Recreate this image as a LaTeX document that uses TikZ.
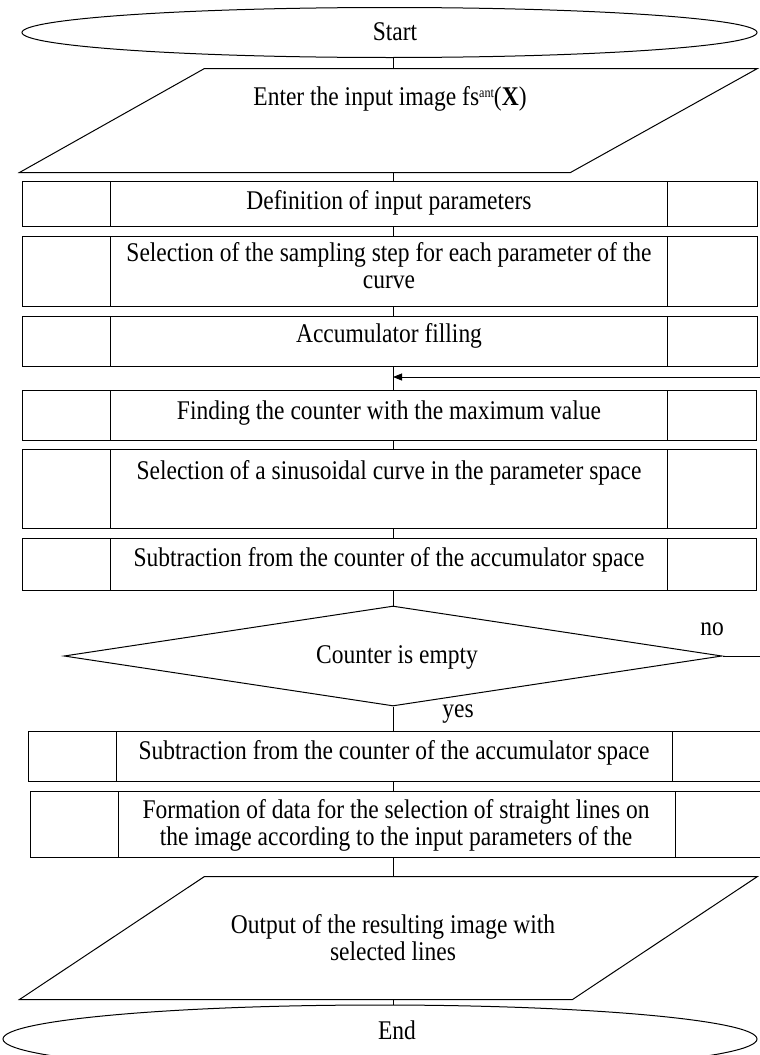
\documentclass[tikz,border=0pt]{standalone}
\usepackage{fontspec}
\setmainfont{Liberation Serif}[FakeStretch=0.87]
\usetikzlibrary{shapes.geometric,arrows.meta}
\begin{document}
\begin{tikzpicture}[x=1pt,y=-1pt,
  line width=1pt,
  lbl/.style={font=\fontsize{27}{27}\selectfont, inner sep=0pt, align=center},
  frame/.style={draw, inner sep=0pt, anchor=north west},
  term/.style={draw, ellipse, inner sep=0pt},
  conn/.style={draw, line width=0.8pt}]
\useasboundingbox (0,0) rectangle (760,1055);
\clip (0,0) rectangle (760,1055);
\coordinate (cl) at (393,0);
% Start
\node[term, minimum width=735pt, minimum height=50pt] (start) at (389.5,32.5) {};
\node[lbl] (starttxt) at (395,32) {Start};
% Input parallelogram
\node[inner sep=0pt, minimum width=737pt, minimum height=103pt] (inbox) at (388.5,120.5) {};
\draw ([xshift=185pt]inbox.north west) -- (inbox.north east) -- ([xshift=-187pt]inbox.south east) -- (inbox.south west) -- cycle;
\node[lbl] (intxt) at (390,99) {Enter the input image fs\raisebox{8pt}{\fontsize{14}{14}\selectfont ant}(\textbf{X})};
% process boxes
\newcommand{\pbox}[8]{% name, x1, x2, y1, y2, xi1, xi2, text
  \node[frame, minimum width=#3pt-#2pt, minimum height=#5pt-#4pt] (#1) at (#2,#4) {};
  \draw (#6,#4) -- (#6,#5);
  \draw (#7,#4) -- (#7,#5);
}
\pbox{b1}{22}{757}{181}{226}{110}{667}{}
\node[lbl] (t1) at (389,203) {Definition of input parameters};
\pbox{b2}{22}{757}{236}{306}{110}{667}{}
\node[lbl] (t2) at (389,266) {Selection of the sampling step for each parameter of the\\curve};
\pbox{b3}{22}{757}{316}{366}{110}{667}{}
\node[lbl] (t3) at (389,336) {Accumulator filling};
\pbox{b4}{22}{756}{390}{440}{110}{667}{}
\node[lbl] (t4) at (389,413) {Finding the counter with the maximum value};
\pbox{b5}{22}{756}{449}{528}{110}{667}{}
\node[lbl] (t5) at (389,473) {Selection of a sinusoidal curve in the parameter space};
\pbox{b6}{22}{756}{538}{590}{110}{667}{}
\node[lbl] (t6) at (389,560) {Subtraction from the counter of the accumulator space};
% diamond
\node[draw, diamond, inner sep=0pt, minimum width=658pt, minimum height=100pt, aspect=6.58] (dec) at (393,656) {};
\node[lbl] (dtxt) at (397,657) {Counter is empty};
\node[lbl] (no) at (712,629) {no};
\node[lbl] (yes) at (458,714) {yes};
\pbox{b7}{28}{770}{731}{781}{116}{672}{}
\node[lbl] (t7) at (394,753) {Subtraction from the counter of the accumulator space};
\pbox{b8}{30}{770}{791}{857}{118}{675}{}
\node[lbl] (t8) at (396,825) {Formation of data for the selection of straight lines on\\the image according to the input parameters of the};
% Output parallelogram
\node[inner sep=0pt, minimum width=737pt, minimum height=122pt] (outbox) at (388.5,938) {};
\draw ([xshift=185pt]outbox.north west) -- (outbox.north east) -- ([xshift=-185pt]outbox.south east) -- (outbox.south west) -- cycle;
\node[lbl] (outtxt) at (393,938) {Output of the resulting image with\\selected lines};
% End
\node[term, minimum width=754pt, minimum height=68pt] (endn) at (380,1039) {};
\node[lbl] (endtxt) at (397,1030) {End};
% connectors
\coordinate (rt) at (765,377);
\coordinate (rn) at (765,656);
\draw[conn] (start.south -| cl) -- (inbox.north -| cl);
\draw[conn] (inbox.south -| cl) -- (b1.north -| cl);
\draw[conn] (b1.south -| cl) -- (b2.north -| cl);
\draw[conn] (b2.south -| cl) -- (b3.north -| cl);
\draw[conn] (b3.south -| cl) -- (b4.north -| cl);
\draw[conn, -{Triangle[length=9pt,width=7pt]}] (rt) -- (rt -| cl);
\draw[conn] (b4.south -| cl) -- (b5.north -| cl);
\draw[conn] (b5.south -| cl) -- (b6.north -| cl);
\draw[conn] (b6.south -| cl) -- (dec.north);
\draw[conn] (dec.east) -- (rn);
\draw[conn] (dec.south) -- (b7.north -| cl);
\draw[conn] (b7.south -| cl) -- (b8.north -| cl);
\draw[conn] (b8.south -| cl) -- (outbox.north -| cl);
\draw[conn] (outbox.south -| cl) -- (endn.north -| cl);
\end{tikzpicture}
\end{document}
